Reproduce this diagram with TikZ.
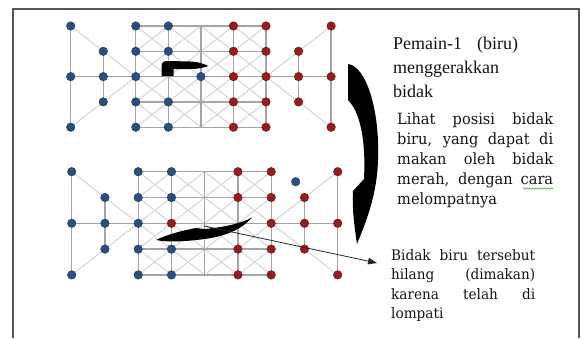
\documentclass[tikz,border=0pt]{standalone}
\usepackage{fontspec}
\usetikzlibrary{arrows.meta,decorations.pathmorphing}
\newfontfamily\fontA{Liberation Serif}
\newfontfamily\fontB[FakeStretch=0.94]{DejaVu Serif}
\definecolor{pblue}{RGB}{40,80,125}
\definecolor{pred}{RGB}{150,28,32}
\definecolor{lineg}{RGB}{165,165,165}
\definecolor{diagg}{RGB}{212,212,212}
\definecolor{frameg}{RGB}{85,85,85}
\definecolor{squig}{RGB}{70,165,70}
\newcommand\gameboard[5]{% prefix, x0, y0, dx, dy
  \foreach \i in {0,...,8}{\foreach \j in {0,...,4}{%
    \coordinate (#1-\i-\j) at ({#2+\i*#4},{#3+\j*#5});}}
  \foreach \i in {2,...,5}{\foreach \j in {0,...,3}{%
    \pgfmathtruncatemacro\ii{\i+1}\pgfmathtruncatemacro\jj{\j+1}%
    \path[diag] (#1-\i-\j) -- (#1-\ii-\jj) (#1-\ii-\j) -- (#1-\i-\jj);}}
  \path[diag] (#1-0-0) -- (#1-2-2) -- (#1-0-4) (#1-8-0) -- (#1-6-2) -- (#1-8-4);
  \foreach \j in {0,...,4}{\path[orth] (#1-2-\j) -- (#1-6-\j);}
  \foreach \i in {2,...,6}{\path[orth] (#1-\i-0) -- (#1-\i-4);}
  \path[orth] (#1-0-0) -- (#1-0-4) (#1-1-1) -- (#1-1-3) (#1-0-2) -- (#1-2-2)
              (#1-8-0) -- (#1-8-4) (#1-7-1) -- (#1-7-3) (#1-6-2) -- (#1-8-2);
}
\begin{document}
\begin{tikzpicture}[x=1pt,y=-1pt,
  orth/.style={draw=lineg,line width=1.3pt},
  diag/.style={draw=diagg,line width=1pt},
  bluepc/.style={circle,fill=pblue,draw=pblue!70!black,line width=0.4pt,inner sep=0pt,minimum size=8.6pt},
  redpc/.style={circle,fill=pred,draw=pred!70!black,line width=0.4pt,inner sep=0pt,minimum size=8.6pt},
  framel/.style={draw=frameg,line width=1.4pt},
  txt/.style={anchor=base west,inner sep=0pt,align=justify,text=black!92}]
\useasboundingbox (0,0) rectangle (581,338);
% frame
\coordinate (fbl) at (13,338); \coordinate (ftl) at (13,9);
\coordinate (ftr) at (579,9); \coordinate (fbr) at (579,338);
\draw[framel] (fbl) -- (ftl) -- (ftr) -- (fbr);
% boards
\gameboard{t}{70.7}{26}{32.55}{25.3}
\gameboard{b}{71.7}{171.7}{33.25}{25.8}
% top pieces
\foreach \i/\j in {0/0,0/2,0/4,1/1,1/2,1/3,2/0,2/1,2/2,2/3,2/4,3/0,3/1,3/3,3/4,4/2}
  \node[bluepc] (tp-\i-\j) at (t-\i-\j) {};
\foreach \i/\j in {5/0,5/1,5/2,5/3,5/4,6/0,6/1,6/2,6/3,6/4,7/1,7/2,7/3,8/0,8/2,8/4}
  \node[redpc] (tp-\i-\j) at (t-\i-\j) {};
% bottom pieces
\foreach \i/\j in {0/0,0/2,0/4,1/1,1/2,1/3,2/0,2/1,2/2,2/3,2/4,3/0,3/1,3/3,3/4}
  \node[bluepc] (bp-\i-\j) at (b-\i-\j) {};
\foreach \i/\j in {3/2,5/0,5/1,5/3,5/4,6/0,6/1,6/2,6/3,6/4,7/1,7/2,7/3,8/0,8/2,8/4}
  \node[redpc] (bp-\i-\j) at (b-\i-\j) {};
\node[bluepc] (captured) at (295.7,181.7) {};
% black move arrows
\fill[black] (161.5,76) -- (161.5,66) .. controls (161.5,62) and (164,61) .. (168,61)
  -- (190,61.5) .. controls (197,61.5) and (203,63.5) .. (208.5,66)
  .. controls (202,68) and (197,69) .. (191,69) -- (173.5,69) -- (173.5,76) -- cycle;
\fill[black] (348,64) .. controls (366,66) and (380,110) .. (378,160)
  .. controls (377,195) and (366,222) .. (357,244)
  .. controls (354,225) and (352,205) .. (353,191) -- (364,179)
  .. controls (366,140) and (360,112) .. (348,100) -- cycle;
\fill[black] (252,217.5) .. controls (240,224) and (222,227.5) .. (204,229)
  -- (196,228) .. controls (180,231) and (166,235) .. (156,240)
  .. controls (168,242.5) and (188,241.5) .. (208,238.5)
  .. controls (228,235.5) and (243,228) .. (252,217.5) -- cycle;
% thin pointer
\coordinate (capt) at (204,226);
\coordinate (pointer) at (377,263);
\draw[line width=0.8pt,black!85,-{Triangle[length=9pt,width=6.5pt]}] (capt) -- (pointer);
% texts
\node[txt,text width=125pt,font=\fontA\fontsize{18}{23.7}\selectfont] (t1) at (393,49.7)
  {Pemain-1 (biru)\linebreak menggerakkan\newline bidak};
\node[txt,text width=156pt,font=\fontB\fontsize{15.5}{20}\selectfont] (t2) at (397,124)
  {Lihat posisi bidak\linebreak biru, yang dapat di\linebreak makan oleh bidak\linebreak merah, dengan cara\linebreak melompatnya};
\node[txt,text width=144pt,font=\fontB\fontsize{14.5}{19.5}\selectfont] (t3) at (391,260)
  {Bidak biru tersebut\linebreak hilang (dimakan)\linebreak karena telah di\linebreak lompati};
\draw[squig,line width=0.6pt,decorate,decoration={snake,amplitude=0.8pt,segment length=3pt}]
  (523,188.5) -- (553,188.5);
\end{tikzpicture}
\end{document}
